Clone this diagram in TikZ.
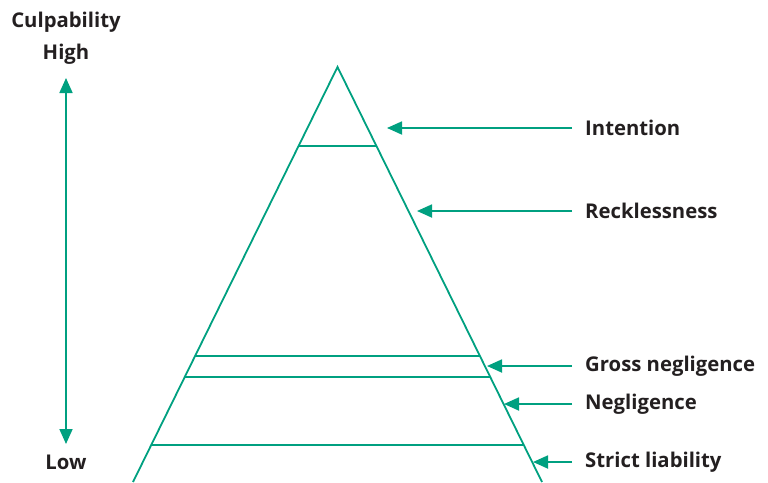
\documentclass[tikz,border=0pt]{standalone}
\usepackage{fontspec}
\setmainfont{Open Sans}
\usetikzlibrary{arrows.meta}
\definecolor{tealg}{HTML}{00A080}
\definecolor{txt}{HTML}{231F20}
\begin{document}
\begin{tikzpicture}[x=1pt,y=-1pt,
  edge/.style={draw=tealg,line width=1.8pt},
  arr/.style={draw=tealg,line width=1.8pt,-{Triangle[length=15pt,width=13pt]}},
  lab/.style={text=txt,font=\bfseries\fontsize{20.3}{24}\selectfont,inner sep=0pt}]
\useasboundingbox (0,0) rectangle (768,482);
% triangle
\coordinate (apex) at (337.5,67);
\coordinate (bl) at (133,482);
\coordinate (br) at (542,482);
\draw[edge] (bl) -- (apex) -- (br);
\coordinate (l1) at (298.5,146); \coordinate (r1) at (376.5,146);
\coordinate (l2) at (195.0,356); \coordinate (r2) at (480.0,356);
\coordinate (l3) at (184.7,377); \coordinate (r3) at (490.3,377);
\coordinate (l4) at (151.1,445); \coordinate (r4) at (523.9,445);
\draw[edge] (l1) -- (r1);
\draw[edge] (l2) -- (r2);
\draw[edge] (l3) -- (r3);
\draw[edge] (l4) -- (r4);
% labels
\node[lab,anchor=west] (int) at (585,128) {Intention};
\node[lab,anchor=west] (rec) at (585,211) {Recklessness};
\node[lab,anchor=west] (gro) at (585,366) {Gross negligence};
\node[lab,anchor=west] (neg) at (585,404) {Negligence};
\node[lab,anchor=west] (str) at (585,462) {Strict liability};
\coordinate (t1) at (387,128);
\coordinate (t2) at (417,211);
\coordinate (t3) at (487,366);
\coordinate (t4) at (504,404);
\coordinate (t5) at (533,462);
\draw[arr] ([xshift=-13pt]int.west) -- (t1);
\draw[arr] ([xshift=-13pt]rec.west) -- (t2);
\draw[arr] ([xshift=-13pt]gro.west) -- (t3);
\draw[arr] ([xshift=-13pt]neg.west) -- (t4);
\draw[arr] ([xshift=-13pt]str.west) -- (t5);
% left axis
\node[lab] (cul) at (66,22) {Culpability};
\node[lab] (high) at (66,54) {High};
\node[lab] (low) at (66,462) {Low};
\draw[draw=tealg,line width=1.8pt,{Triangle[length=15pt,width=13pt]}-{Triangle[length=15pt,width=13pt]}] (66,78) -- (66,444);
\end{tikzpicture}
\end{document}
